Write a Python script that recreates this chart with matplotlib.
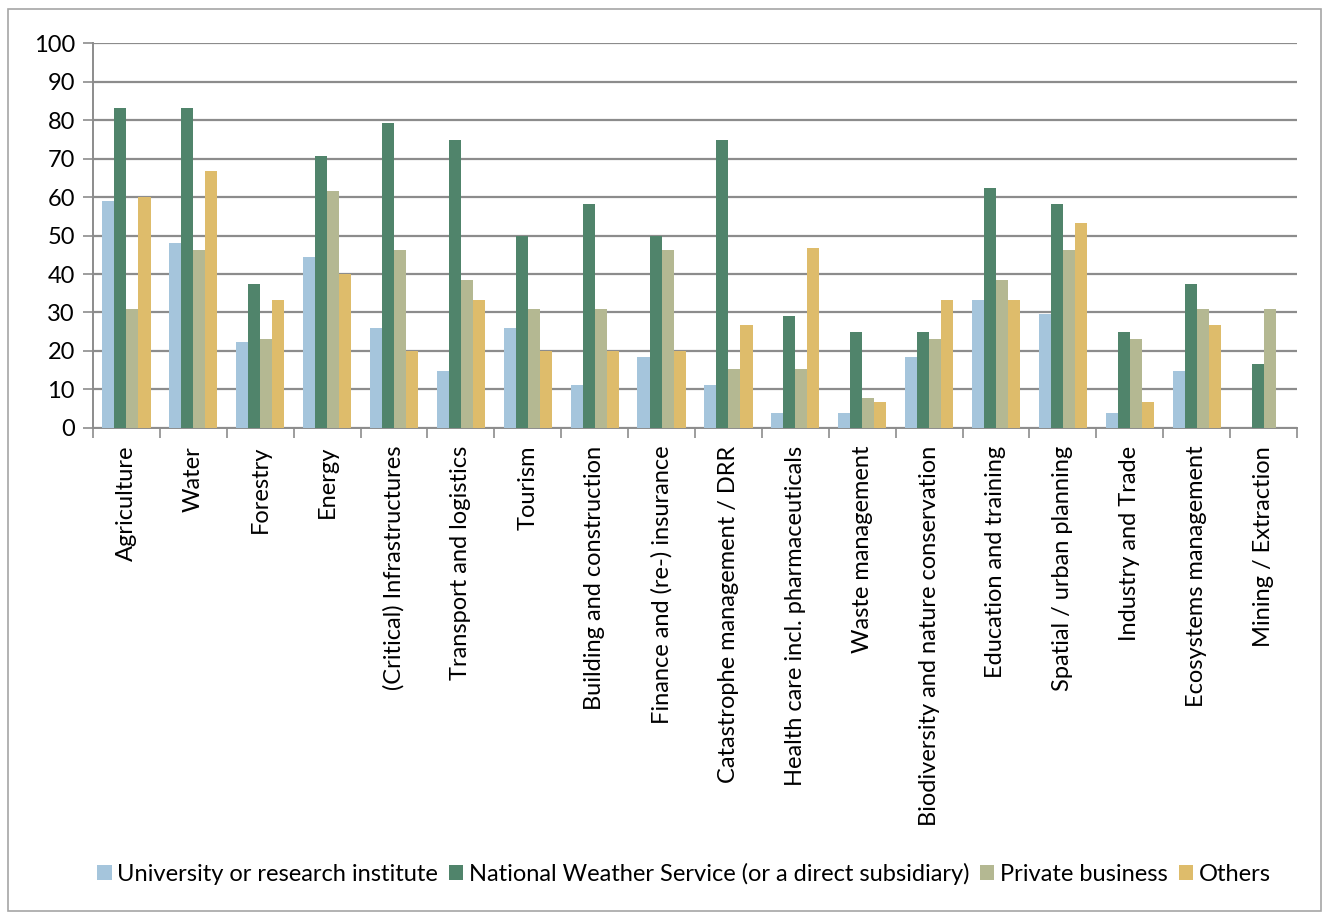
import matplotlib.pyplot as plt
import numpy as np
from matplotlib.patches import Rectangle

categories = ["Agriculture", "Water", "Forestry", "Energy", "(Critical) Infrastructures",
              "Transport and logistics", "Tourism", "Building and construction",
              "Finance and (re-) insurance", "Catastrophe management / DRR",
              "Health care incl. pharmaceuticals", "Waste management",
              "Biodiversity and nature conservation", "Education and training",
              "Spatial / urban planning", "Industry and Trade", "Ecosystems management",
              "Mining / Extraction"]

university = [59.1, 48.1, 22.2, 44.4, 25.9, 14.8, 25.9, 11.1, 18.5, 11.1, 3.7, 3.7,
              18.5, 33.3, 29.6, 3.7, 14.8, 0]
weather = [83.3, 83.3, 37.5, 70.8, 79.2, 75.0, 50.0, 58.3, 50.0, 75.0, 29.2, 25.0,
           25.0, 62.5, 58.3, 25.0, 37.5, 16.7]
private = [30.8, 46.2, 23.1, 61.5, 46.2, 38.5, 30.8, 30.8, 46.2, 15.4, 15.4, 7.7,
           23.1, 38.5, 46.2, 23.1, 30.8, 30.8]
others = [60.0, 66.7, 33.3, 40.0, 20.0, 33.3, 20.0, 20.0, 20.0, 26.7, 46.7, 6.7,
          33.3, 33.3, 53.3, 6.7, 26.7, 0]

series = [("University or research institute", university, "#A5C5DC"),
          ("National Weather Service (or a direct subsidiary)", weather, "#50846B"),
          ("Private business", private, "#B4B892"),
          ("Others", others, "#DEBC6B")]

plt.rcParams['font.family'] = ['Lato', 'DejaVu Sans']

fig = plt.figure(figsize=(13.29, 9.13), dpi=100)
ax = fig.add_axes([93 / 1329, 1 - 427.7 / 913, (1297 - 93) / 1329, (427.7 - 43.5) / 913])

fig.patches.append(Rectangle((8 / 1329, 0.002), 1313 / 1329, 1 - 9 / 913 - 0.002,
                             transform=fig.transFigure, fill=False,
                             edgecolor="#a6a6a6", linewidth=1.2))

x = np.arange(len(categories))
w = 0.18
for i, (name, vals, col) in enumerate(series):
    ax.bar(x + (i - 1.5) * w, vals, w, color=col, label=name, zorder=3)

ax.set_xlim(-0.5, len(categories) - 0.5)
ax.set_ylim(0, 100)
ax.set_yticks(range(0, 101, 10))
ax.yaxis.grid(True, color="#8c8c8c", linewidth=1.6, zorder=0)
ax.tick_params(axis='y', length=7, width=1.2, color="#8c8c8c", labelsize=17, pad=6)

ax.set_xticks(x)
ax.set_xticklabels(categories, rotation=90, fontsize=17)
ax.set_xticks(np.arange(-0.5, len(categories)), minor=True)
ax.tick_params(axis='x', which='major', length=0, pad=13)
ax.tick_params(axis='x', which='minor', length=7, width=1.2, color="#8c8c8c")

for s in ["top", "right"]:
    ax.spines[s].set_visible(False)
ax.spines["left"].set_color("#8c8c8c")
ax.spines["bottom"].set_color("#8c8c8c")
ax.spines["left"].set_linewidth(1.4)
ax.spines["bottom"].set_linewidth(1.4)

fig.legend(loc="center", bbox_to_anchor=(684 / 1329, 1 - 874 / 913), ncol=4,
           frameon=False, fontsize=17, handlelength=0.6, handleheight=0.6,
           handletextpad=0.25, columnspacing=0.45)

fig.savefig("out.png", dpi=100)
